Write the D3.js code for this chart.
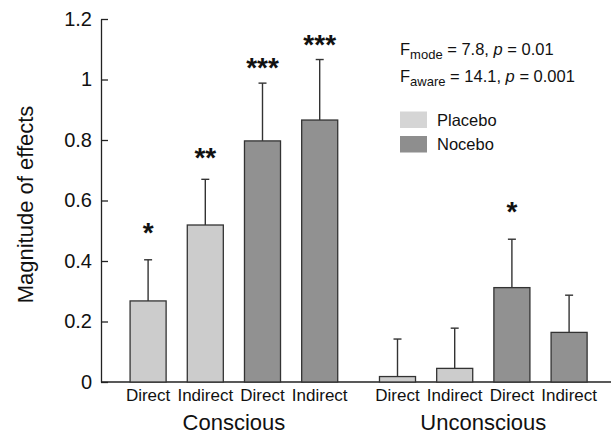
<!DOCTYPE html>
<html>
<head>
<meta charset="utf-8">
<script src="https://cdn.jsdelivr.net/npm/d3@7"></script>
<style>
  body { margin: 0; background: #fff; }
  svg text { font-family: Arial, "Liberation Sans", sans-serif; fill: #111; }
</style>
</head>
<body>
<script>
var width = 611,
    height = 439;

// data
var groups = ["Conscious", "Unconscious"];
var conditions = ["placeboDirect", "placeboIndirect", "noceboDirect", "noceboIndirect"];
var conditionLabels = ["Direct", "Indirect", "Direct", "Indirect"];
var consciousMeans = [0.268, 0.519, 0.797, 0.866];
var consciousErrors = [0.136, 0.151, 0.191, 0.200];
var unconsciousMeans = [0.018, 0.045, 0.312, 0.164];
var unconsciousErrors = [0.124, 0.133, 0.160, 0.123];
var consciousStars = ["*", "**", "***", "***"];
var unconsciousStars = ["", "", "*", ""];
var yTicks = [0, 0.2, 0.4, 0.6, 0.8, 1, 1.2];
var legendItems = ["Placebo", "Nocebo"];

var fills = { Placebo: "#cccccc", Nocebo: "#919191" };
var legendFills = { Placebo: "#d5d5d5", Nocebo: "#8e8e8e" };

var rows = [];
groups.forEach(function (g, gi) {
    var means = gi == 0 ? consciousMeans : unconsciousMeans;
    var errs = gi == 0 ? consciousErrors : unconsciousErrors;
    var stars = gi == 0 ? consciousStars : unconsciousStars;
    conditions.forEach(function (c, ci) {
        rows.push({
            group: g, key: c, label: conditionLabels[ci],
            treatment: ci < 2 ? "Placebo" : "Nocebo",
            mean: means[ci], err: errs[ci], stars: stars[ci]
        });
    });
});

var axisX = 101, plotRight = 611;

var svg = d3.select("body").append("svg")
    .attr("width", width)
    .attr("height", height);

var y = d3.scaleLinear().domain([0, 1.2]).range([382, 19]);

var x0 = d3.scaleBand().domain(groups)
    .range([119.5, 597.7])
    .paddingInner(0.0826)
    .paddingOuter(0);

var x1 = d3.scaleBand().domain(conditions)
    .range([0, x0.bandwidth()])
    .paddingInner(0.37)
    .paddingOuter(0.185);

// y axis, ticks pointing inward
var yAxis = svg.append("g")
    .attr("transform", "translate(" + axisX + ",0)")
    .call(d3.axisLeft(y)
        .tickValues(yTicks)
        .tickFormat(d3.format("~g"))
        .tickSizeInner(-7)
        .tickSizeOuter(0)
        .tickPadding(9));
yAxis.selectAll("path, line").attr("stroke", "#222").attr("stroke-width", 1.3);
yAxis.selectAll("text")
    .style("font-size", "20px")
    .style("font-family", "Arial, 'Liberation Sans', sans-serif")
    .attr("fill", "#111");

// x baseline
svg.append("line")
    .attr("x1", axisX).attr("x2", plotRight)
    .attr("y1", y(0)).attr("y2", y(0))
    .attr("stroke", "#222").attr("stroke-width", 1.3);

svg.append("text")
    .attr("transform", "translate(33," + (y(0.6) + 4) + ") rotate(-90)")
    .attr("text-anchor", "middle")
    .style("font-size", "22px")
    .text("Magnitude of effects");

var bar = svg.selectAll(".bar")
    .data(rows)
    .enter().append("g")
    .attr("class", "bar")
    .attr("transform", function (d) { return "translate(" + (x0(d.group) + x1(d.key)) + ",0)"; });

var bw = x1.bandwidth();

// error bars (upper only)
bar.append("line")
    .attr("x1", bw / 2).attr("x2", bw / 2)
    .attr("y1", function (d) { return y(d.mean); })
    .attr("y2", function (d) { return y(d.mean + d.err); })
    .attr("stroke", "#333").attr("stroke-width", 1.4);
bar.append("line")
    .attr("x1", bw / 2 - 4).attr("x2", bw / 2 + 4)
    .attr("y1", function (d) { return y(d.mean + d.err); })
    .attr("y2", function (d) { return y(d.mean + d.err); })
    .attr("stroke", "#333").attr("stroke-width", 1.4);

bar.append("rect")
    .attr("x", 0)
    .attr("width", bw)
    .attr("y", function (d) { return y(d.mean); })
    .attr("height", function (d) { return y(0) - y(d.mean); })
    .attr("fill", function (d) { return fills[d.treatment]; })
    .attr("stroke", "#333")
    .attr("stroke-width", 1.3);

bar.append("text")
    .attr("x", bw / 2)
    .attr("y", function (d) { return y(d.mean + d.err) - 24 + 6 * d.stars.length; })
    .attr("text-anchor", "middle")
    .style("font-size", "28px")
    .style("font-weight", "bold")
    .text(function (d) { return d.stars; });

bar.append("text")
    .attr("x", bw / 2)
    .attr("y", 401)
    .attr("text-anchor", "middle")
    .style("font-size", "17px")
    .text(function (d) { return d.label; });

svg.selectAll(".group-label")
    .data(groups)
    .enter().append("text")
    .attr("class", "group-label")
    .attr("x", function (d) { return x0(d) + x0.bandwidth() / 2; })
    .attr("y", 430)
    .attr("text-anchor", "middle")
    .style("font-size", "22px")
    .text(function (d) { return d; });

// stats
var stats = [
    { sub: "mode", f: "7.8", p: "0.01" },
    { sub: "aware", f: "14.1", p: "0.001" }
];
stats.forEach(function (s, i) {
    var t = svg.append("text")
        .attr("x", 400)
        .attr("y", 55 + i * 27)
        .style("font-size", "16.5px");
    t.append("tspan").text("F");
    t.append("tspan").attr("dy", 4).style("font-size", "13px").text(s.sub);
    t.append("tspan").attr("dy", -4).text(" = " + s.f + ", ");
    t.append("tspan").style("font-style", "italic").text("p");
    t.append("tspan").text(" = " + s.p);
});

// legend
var legend = svg.selectAll(".legend")
    .data(legendItems)
    .enter().append("g")
    .attr("class", "legend")
    .attr("transform", function (d, i) { return "translate(400," + (111.5 + i * 24.5) + ")"; });
legend.append("rect")
    .attr("width", 27).attr("height", 16.5)
    .attr("fill", function (d) { return legendFills[d]; });
legend.append("text")
    .attr("x", 37).attr("y", 14)
    .style("font-size", "16.5px")
    .text(function (d) { return d; });
</script>
</body>
</html>
